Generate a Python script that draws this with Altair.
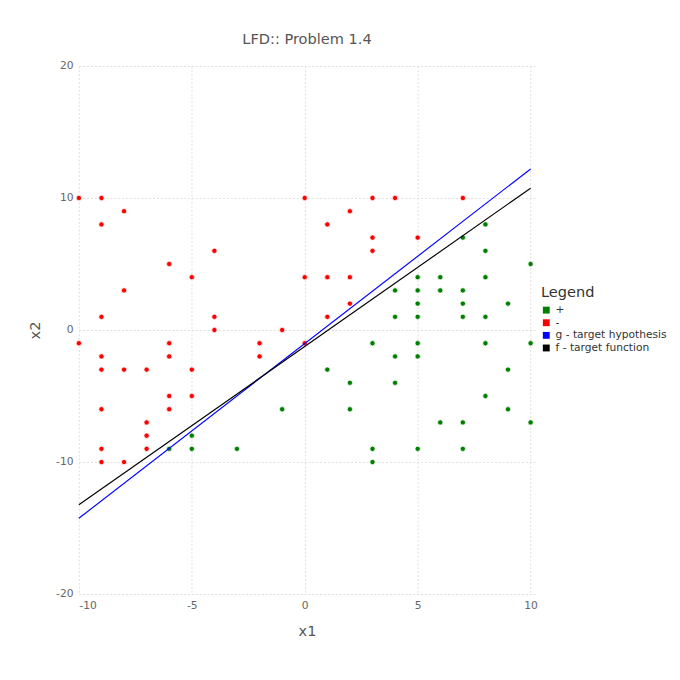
import altair as alt
import pandas as pd

pos_x = [-1, -5, -6, -5, -3, 8, 7, 8, 10, 5, 6, 8, 4, 5, 6, 7, 5, 7, 9, 4, 5, 7, 8,
         3, 5, 8, 10, 4, 5, 1, 9, 2, 4, 8, 2, 9, 6, 7, 10, 3, 5, 7, 3]
pos_y = [-6, -8, -9, -9, -9, 8, 7, 6, 5, 4, 4, 4, 3, 3, 3, 3, 2, 2, 2, 1, 1, 1, 1,
         -1, -1, -1, -1, -2, -2, -3, -3, -4, -4, -5, -6, -6, -7, -7, -7, -9, -9, -9, -10]

neg_x = [-10, -9, 0, -8, -9, -4, -6, -5, 0, -8, -9, -4, -4, -1, -10, -6, -2, 0,
         -9, -6, -2, -9, -8, -7, -5, -6, -5, -9, -6, -7, -7, -9, -7, -9, -8,
         3, 4, 7, 2, 1, 3, 5, 3, 1, 2, 2, 1]
neg_y = [10, 10, 10, 9, 8, 6, 5, 4, 4, 3, 1, 1, 0, 0, -1, -1, -1, -1,
         -2, -2, -2, -3, -3, -3, -3, -5, -5, -6, -6, -7, -8, -9, -9, -10, -10,
         10, 10, 10, 9, 8, 7, 7, 6, 4, 4, 2, 1]

line_x = [-10, 10]
g_y = [-14.26, 12.2]
f_y = [-13.24, 10.74]

labels = ["+", "-", "g - target hypothesis", "f - target function"]
colors = ["green", "red", "blue", "black"]

pts = pd.concat([
    pd.DataFrame({"x1": pos_x, "x2": pos_y, "s": "+"}),
    pd.DataFrame({"x1": neg_x, "x2": neg_y, "s": "-"}),
])
lines = pd.concat([
    pd.DataFrame({"x1": line_x, "x2": g_y, "s": labels[2]}),
    pd.DataFrame({"x1": line_x, "x2": f_y, "s": labels[3]}),
])

color = alt.Color("s:N", title="Legend",
                  scale=alt.Scale(domain=labels, range=colors),
                  legend=alt.Legend(symbolType="square", symbolSize=50,
                                    symbolStrokeWidth=0, titleFontSize=15,
                                    titleFontWeight="normal", labelFontSize=11,
                                    titleColor="#333", labelColor="#333",
                                    rowPadding=1, orient="none",
                                    legendX=476, legendY=226))
x = alt.X("x1:Q", title="x1", scale=alt.Scale(domain=[-10, 10.2], nice=False),
          axis=alt.Axis(values=[-10, -5, 0, 5, 10], titlePadding=14,
                        labelExpr="toString(datum.value)"))
y = alt.Y("x2:Q", title="x2", scale=alt.Scale(domain=[-20, 20], nice=False),
          axis=alt.Axis(values=[-20, -10, 0, 10, 20], titlePadding=14,
                        labelExpr="toString(datum.value)"))

points = alt.Chart(pts).mark_circle(size=30, opacity=1, stroke="white",
                                    strokeWidth=0.8).encode(x=x, y=y, color=color)
lns = alt.Chart(lines).mark_line(strokeWidth=1.2).encode(
    x=x, y=y, color=color, detail="s:N")

chart = (points + lns).properties(
    width=470, height=544,
    padding={"left": 20, "top": 15, "right": 5, "bottom": 5},
    title=alt.TitleParams("LFD:: Problem 1.4", fontSize=15, fontWeight="normal",
                          color="#555", offset=14),
).configure(font="DejaVu Sans").configure_axis(
    domain=False, ticks=False, gridDash=[2, 2], gridColor="#ddd",
    labelColor="#666", labelFontSize=11, titleFontSize=15,
    titleFontWeight="normal", titleColor="#555", labelPadding=6,
).configure_view(stroke=None)

chart.save("out.html", embed_options={"renderer": "svg", "actions": False})
